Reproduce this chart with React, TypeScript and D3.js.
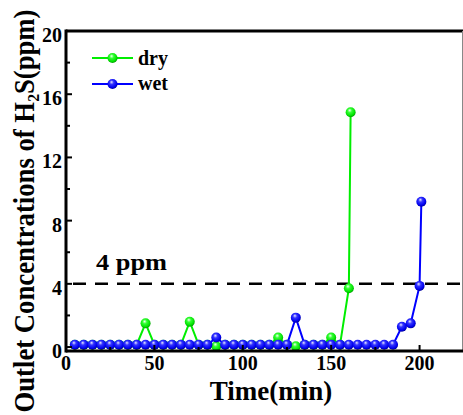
import React from "react";
import * as d3 from "d3";

const blueTimes = [5, 10, 15, 20, 25, 30, 35, 40, 45, 50, 55, 60, 65, 70, 75, 80, 85, 90, 95, 100, 105, 110, 115, 120, 125, 130, 135, 140, 145, 150, 155, 160, 165, 170, 175, 180, 185, 190, 195, 200, 201];
const blueValues = [0.15, 0.15, 0.15, 0.15, 0.15, 0.15, 0.15, 0.15, 0.15, 0.15, 0.15, 0.15, 0.15, 0.15, 0.15, 0.15, 0.6, 0.15, 0.15, 0.15, 0.15, 0.15, 0.15, 0.15, 0.15, 1.86, 0.15, 0.15, 0.15, 0.15, 0.15, 0.15, 0.15, 0.15, 0.15, 0.15, 0.15, 1.29, 1.5, 3.87, 9.2];

const greenTimes = [5, 10, 15, 20, 25, 30, 35, 40, 45, 50, 55, 60, 65, 70, 75, 80, 85, 90, 95, 100, 105, 110, 115, 120, 125, 130, 135, 140, 145, 150, 155, 160, 161];
const greenValues = [0.15, 0.15, 0.15, 0.15, 0.15, 0.15, 0.15, 0.15, 1.5, 0.15, 0.15, 0.15, 0.15, 1.6, 0.15, 0.15, 0.05, 0.15, 0.15, 0.15, 0.15, 0.15, 0.15, 0.6, 0.15, 0.05, 0.15, 0.15, 0.15, 0.6, 0.15, 3.72, 14.86];

const xMajorTicks = [0, 50, 100, 150, 200];
const xMinorTicks = [25, 75, 125, 175];
const yMajorTicks = [0, 4, 8, 12, 16, 20];
const yMinorTicks = [2, 6, 10, 14, 18];
const threshold = 4;

const seriesNames = ["dry", "wet"];

const FONT = "'Liberation Serif', 'Times New Roman', serif";

export default function App() {
  const W = 463, H = 415;
  const x = d3.scaleLinear().domain([0, 224]).range([66, 462]);
  const y = d3.scaleLinear().domain([-0.25, 20]).range([351, 31]);

  const line = d3
    .line<[number, number]>()
    .x((d) => x(d[0]))
    .y((d) => y(d[1]));

  const green: [number, number][] = greenTimes.map((t, i) => [t, greenValues[i]]);
  const blue: [number, number][] = blueTimes.map((t, i) => [t, blueValues[i]]);

  const r = 5;
  const x0 = x(0), x1 = 462, yb = y(-0.25), yt = y(20);

  return (
    <svg width={W} height={H} style={{ position: "absolute", left: 0, top: 0, background: "#fff" }}>
      <defs>
        <radialGradient id="gG" cx="0.45" cy="0.4" r="0.6" fx="0.4" fy="0.3">
          <stop offset="0" stopColor="#f2fff2" />
          <stop offset="0.35" stopColor="#33ff33" />
          <stop offset="0.8" stopColor="#00e000" />
          <stop offset="1" stopColor="#009900" />
        </radialGradient>
        <radialGradient id="gB" cx="0.45" cy="0.4" r="0.6" fx="0.4" fy="0.3">
          <stop offset="0" stopColor="#e8e8ff" />
          <stop offset="0.35" stopColor="#3333ff" />
          <stop offset="0.8" stopColor="#0000ee" />
          <stop offset="1" stopColor="#000099" />
        </radialGradient>
      </defs>

      {/* threshold dashed line */}
      <line x1={x0} x2={x1} y1={y(threshold)} y2={y(threshold)} stroke="#000" strokeWidth={2.5} strokeDasharray="13,9" strokeDashoffset={15} />
      <text x={96} y={270} fontFamily={FONT} fontWeight="bold" fontSize={24} textLength={71} lengthAdjust="spacingAndGlyphs">4 ppm</text>

      {/* green series */}
      <path d={line(green) || ""} fill="none" stroke="#00ee00" strokeWidth={2} />
      {green.map((d, i) => (
        <circle key={"g" + i} cx={x(d[0])} cy={y(d[1])} r={r} fill="url(#gG)" />
      ))}
      {/* blue series */}
      <path d={line(blue) || ""} fill="none" stroke="#0000ff" strokeWidth={2} />
      {blue.map((d, i) => (
        <circle key={"b" + i} cx={x(d[0])} cy={y(d[1])} r={r} fill="url(#gB)" />
      ))}

      {/* axes frame */}
      <line x1={x0} x2={x1 + 1} y1={yt} y2={yt} stroke="#000" strokeWidth={3} />
      <line x1={462.5} x2={462.5} y1={yt} y2={yb} stroke="#888" strokeWidth={1} />
      <line x1={x0} x2={x1 + 1} y1={yb} y2={yb} stroke="#000" strokeWidth={3} />
      <line x1={x0} x2={x0} y1={yt - 1.5} y2={yb + 1.5} stroke="#000" strokeWidth={3} />

      {/* x ticks */}
      {xMajorTicks.map((t) => (
        <g key={"xt" + t}>
          <line x1={x(t)} x2={x(t)} y1={yb} y2={yb - 6} stroke="#000" strokeWidth={2} />
          <text x={x(t)} y={370} textAnchor="middle" fontFamily={FONT} fontWeight="bold" fontSize={20}>{t}</text>
        </g>
      ))}
      {xMinorTicks.map((t) => (
        <line key={"xm" + t} x1={x(t)} x2={x(t)} y1={yb} y2={yb - 4} stroke="#000" strokeWidth={2} />
      ))}

      {/* y ticks */}
      {yMajorTicks.map((t) => (
        <g key={"yt" + t}>
          <line x1={x0} x2={x0 + 6} y1={y(t)} y2={y(t)} stroke="#000" strokeWidth={2} />
          <text x={62} y={y(t) + 11} textAnchor="end" fontFamily={FONT} fontWeight="bold" fontSize={20}>{t}</text>
        </g>
      ))}
      {yMinorTicks.map((t) => (
        <line key={"ym" + t} x1={x0} x2={x0 + 4} y1={y(t)} y2={y(t)} stroke="#000" strokeWidth={2} />
      ))}

      {/* axis titles */}
      <text x={271} y={400} textAnchor="middle" fontFamily={FONT} fontWeight="bold" fontSize={27}>Time(min)</text>
      <text
        transform="translate(34,211) rotate(-90)"
        textAnchor="middle"
        fontFamily={FONT}
        fontWeight="bold"
        fontSize={29}
        textLength={403}
        lengthAdjust="spacingAndGlyphs"
      >
        Outlet Concentrations of H<tspan fontSize={17} dy={5}>2</tspan><tspan dy={-5}>S(ppm)</tspan>
      </text>

      {/* legend */}
      <line x1={92} x2={133} y1={58} y2={58} stroke="#00ee00" strokeWidth={2} />
      <circle cx={112.5} cy={58} r={r} fill="url(#gG)" />
      <text x={138} y={65} fontFamily={FONT} fontWeight="bold" fontSize={20}>{seriesNames[0]}</text>
      <line x1={92} x2={133} y1={84} y2={84} stroke="#0000ff" strokeWidth={2} />
      <circle cx={112.5} cy={84} r={r} fill="url(#gB)" />
      <text x={138} y={90} fontFamily={FONT} fontWeight="bold" fontSize={20}>{seriesNames[1]}</text>
    </svg>
  );
}
